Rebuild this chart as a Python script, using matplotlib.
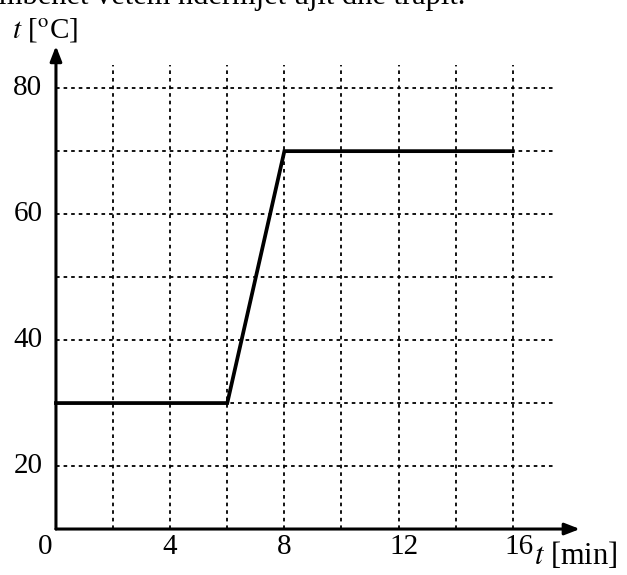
import matplotlib.pyplot as plt

plt.rcParams["font.family"] = ["Liberation Serif", "DejaVu Serif"]
plt.rcParams["mathtext.fontset"] = "stix"

# heating curve
time_min = [0, 6, 8, 16]
temp_c = [30, 30, 70, 70]

x_grid = [2, 4, 6, 8, 10, 12, 14, 16]
y_grid = [20, 30, 40, 50, 60, 70, 80]
x_ticks = [0, 4, 8, 12, 16]
y_ticks = [20, 40, 60, 80]

fig = plt.figure(figsize=(6.27, 5.75), dpi=100)
ax = fig.add_axes([0, 0, 1, 1])
ax.set_xlim(-1.96, 20.0)
ax.set_ylim(2.7, 94.0)
ax.axis("off")

# dotted grid
for gx in x_grid:
    ax.plot([gx, gx], [10, 83.6], color="black", lw=1.3, ls=(0, (2, 2.2)))
for gy in y_grid:
    ax.plot([0, 17.5], [gy, gy], color="black", lw=1.3, ls=(0, (2, 2.2)))

# axes with arrows
arrow = dict(arrowstyle="-|>,head_length=0.9,head_width=0.35", color="black", lw=2.2, shrinkA=0, shrinkB=0)
ax.annotate("", xy=(18.35, 10), xytext=(0, 10), arrowprops=arrow)
ax.annotate("", xy=(0, 86.7), xytext=(0, 10), arrowprops=arrow)

ax.plot(time_min, temp_c, color="black", lw=2.7, solid_joinstyle="miter")

# tick labels
for t in x_ticks:
    xpos = -0.38 if t == 0 else t + (0.2 if t >= 12 else 0)
    ax.text(xpos, 6.0, str(t), ha="center", va="baseline", fontsize=21)
for v in y_ticks:
    ax.text(-0.48, v, str(v), ha="right", va="center", fontsize=21)

ax.text(-1.53, 88.0, r"$t$ [$^{\rm o}$C]", ha="left", va="baseline", fontsize=21)
ax.text(16.75, 4.4, r"$t$ [min]", ha="left", va="baseline", fontsize=22)

fig.text(465 / 627, 1 - 4 / 575, "shkëmbehet vetëm ndërmjet ujit dhe trapit.",
         ha="right", va="baseline", fontsize=22)

fig.savefig("out.png", dpi=100, facecolor="white")
